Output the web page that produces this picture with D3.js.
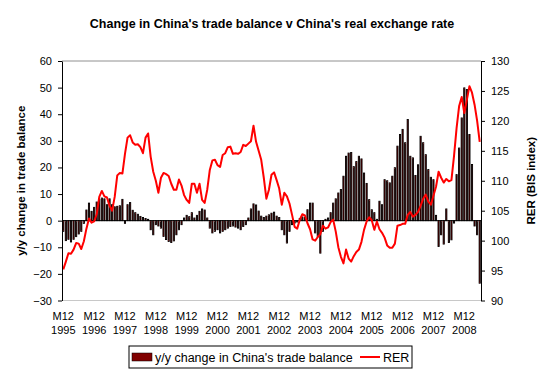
<!DOCTYPE html>
<html>
<head>
<meta charset="utf-8">
<script src="https://cdn.jsdelivr.net/npm/d3@7"></script>
<style>
  body { margin: 0; background: #fff; }
  svg { display: block; font-family: Arial, "Liberation Sans", sans-serif; }
  .axis text { font-size: 11px; fill: #000; }
  .axis path, .axis line { stroke: #000; }
</style>
</head>
<body>
<svg width="547" height="374"></svg>
<script>
// monthly, M12 1995 .. M6 2009
const yearLabels = ["1995","1996","1997","1998","1999","2000","2001","2002","2003","2004","2005","2006","2007","2008"];

// y/y change in China's trade balance (left axis)
const tradeChange = [
  -4, -7.5, -7, -8, -7, -6, -5, -4, -1, 4,
  6.6, 3.5, 5, 7, 8, 8.5, 8.2, 6, 8.2, 6,
  5.2, 5.4, 5.6, 8, -1, 6, 6.8, 3.9, 3, 2.4,
  1.6, 1.2, 0.8, 0.5, -3.4, -5.3, -1.5, -2, -2.8, -5.9,
  -7.1, -7.8, -8.2, -7.6, -5.3, -3.4, -1.5, 1, 2, 1.5,
  3, 1, 2, 3.5, 4.4, 4, 1, -2.8, -4.6, -4,
  -3.4, -4.6, -4, -3.4, -2.8, -2.2, -2, -2.4, -2.8, -3.4,
  -2.2, -1.5, 1, 4.4, 6.3, 5.9, 3.6, 1.7, 1.2, 1.7,
  2.2, 2.8, 3.2, 1.7, 1.2, -3.4, -5.3, -8.4, -4, -1.5,
  -0.9, -0.5, 0.8, 1.4, 1.2, 4.1, 6.6, 6.6, -4.6, -5.9,
  -12.2, -4, 0.5, 1, 3, 6.6, 8.2, 10.4, 11.7, 16.7,
  24.2, 25.4, 25.6, 20.3, 22.2, 24.2, 23.2, 17.9, 14, 7.9,
  4.1, 3, 0.5, 7.3, 6, 15.4, 15, 14.2, 16.7, 19.9,
  28, 32.4, 34.3, 29.3, 38, 24.2, 23.6, 17, 21, 31.7,
  29.3, 24.8, 19.2, 16.3, 15.4, 2, -9.7, -5.3, -8.8, 4.4,
  -8.2, -7.2, -0.9, 17.3, 27.3, 38.6, 49.9, 49.3, 32.4, 21.1,
  -2, -5.3, -23.5
];

// RER, BIS index (right axis)
const rer = [
  95.2, 96.5, 97.9, 97.8, 98.5, 99.6, 99.5, 98.6, 99.9, 102,
  103.7, 103, 103.2, 104.4, 107.3, 108.3, 107.4, 107.2, 105.8, 105,
  107.3, 110.9, 111.3, 111.2, 114.5, 117.2, 117.6, 116.4, 116, 116.1,
  115.6, 114.6, 117.2, 117.9, 114, 111.5, 110, 108, 110.5, 111.3,
  111.1, 110.8, 109.5, 108.5, 108.5, 110.2, 109.2, 107.6, 106.8, 106.3,
  109.5, 109.5, 108, 109.5, 106.8, 106.3, 108.5, 111.8, 113.4, 113.5,
  112.6, 112.3, 114.3, 114.6, 115.6, 115.7, 114.5, 114.6, 114.5, 114.8,
  116, 115.8, 116.2, 116.6, 119.2, 116.5, 115, 113.5, 110.5, 107,
  108.5, 111, 111.4, 110.1, 108.7, 106, 108, 107.4, 106.2, 104.3,
  102.3, 102, 103.5, 104.4, 104.2, 102.9, 101.9, 100.2, 100, 100.6,
  101.1, 102.5, 102, 102.2, 103.1, 103.5, 101.5, 98.9, 97.3, 96.2,
  98.5, 97, 96.5, 97.4, 98.1, 98.5, 99.8, 101.8, 103.2, 103.9,
  103.4, 101.8, 103.2, 101.9, 101.3, 100.5, 99.2, 98.8, 98.8, 99.5,
  102.5, 102.6, 102.8, 102.8, 104.3, 104.8, 104, 104.3, 104.8, 105.8,
  107, 107.7, 106.5, 106, 107.5, 109, 111.5, 110.5, 109.7, 110.3,
  109.9, 110.1, 114.1, 118.8, 122.5, 124, 121.3, 123.5, 125.8, 124.7,
  122.7, 120, 116.5
];

const leftTicks = [-30, -20, -10, 0, 10, 20, 30, 40, 50, 60];
const rightTicks = [90, 95, 100, 105, 110, 115, 120, 125, 130];

const svg = d3.select("svg");
const plot = { left: 62, right: 481, top: 61, bottom: 300.5 };

const x = d3.scaleBand()
  .domain(d3.range(tradeChange.length))
  .range([plot.left, plot.right])
  .paddingInner(0.55)
  .paddingOuter(0.275);

const yL = d3.scaleLinear().domain([-30, 60]).range([plot.bottom, plot.top]);
const yR = d3.scaleLinear().domain([90, 130]).range([plot.bottom, plot.top]);

// title
svg.append("text")
  .attr("x", 272)
  .attr("y", 28)
  .attr("text-anchor", "middle")
  .style("font-size", "12.5px")
  .style("font-weight", "bold")
  .text("Change in China's trade balance v China's real exchange rate");

// frame
svg.append("line")
  .attr("x1", plot.left).attr("x2", plot.right)
  .attr("y1", plot.top).attr("y2", plot.top)
  .attr("stroke", "#909090");
svg.append("line")
  .attr("x1", plot.left).attr("x2", plot.right)
  .attr("y1", plot.bottom).attr("y2", plot.bottom)
  .attr("stroke", "#c8c8c8");

// bars
svg.append("g")
  .selectAll("rect")
  .data(tradeChange)
  .enter().append("rect")
  .attr("x", (d, i) => x(i))
  .attr("width", x.bandwidth())
  .attr("y", d => yL(Math.max(0, d)))
  .attr("height", d => Math.abs(yL(d) - yL(0)))
  .attr("fill", "#800000")
  .attr("stroke", "#000")
  .attr("stroke-width", 0.9);

// zero line
svg.append("line")
  .attr("x1", plot.left).attr("x2", plot.right)
  .attr("y1", yL(0)).attr("y2", yL(0))
  .attr("stroke", "#000");

// RER line
const line = d3.line()
  .x((d, i) => x(i) + x.bandwidth() / 2)
  .y(d => yR(d));

svg.append("path")
  .datum(rer)
  .attr("fill", "none")
  .attr("stroke", "#ff0000")
  .attr("stroke-width", 2)
  .attr("stroke-linejoin", "round")
  .attr("d", line);

// left axis
const axL = svg.append("g")
  .attr("class", "axis")
  .attr("transform", "translate(" + plot.left + ",0)")
  .call(d3.axisLeft(yL).tickValues(leftTicks).tickSize(4).tickSizeOuter(0).tickPadding(6));
axL.select(".domain").attr("stroke", "#000");

// right axis
const axR = svg.append("g")
  .attr("class", "axis")
  .attr("transform", "translate(" + plot.right + ",0)")
  .call(d3.axisRight(yR).tickValues(rightTicks).tickSize(4).tickSizeOuter(0).tickPadding(6));
axR.select(".domain").attr("stroke", "#555");
axR.selectAll(".tick line").attr("stroke", "#555");

// x labels: every 12th month (M12 of each year)
const xTickIdx = yearLabels.map((y, k) => k * 12);
const axX = svg.append("g")
  .attr("class", "axis")
  .attr("transform", "translate(0," + plot.bottom + ")")
  .call(d3.axisBottom(x).tickValues(xTickIdx).tickSize(0).tickFormat(""));
axX.select(".domain").remove();
axX.selectAll(".tick").each(function(d, k) {
  const t = d3.select(this).append("text")
    .attr("text-anchor", "middle")
    .attr("fill", "#000");
  t.append("tspan").attr("x", 0).attr("y", 19).text("M12");
  t.append("tspan").attr("x", 0).attr("y", 33).text(yearLabels[k]);
});

// axis titles
svg.append("text")
  .attr("transform", "translate(25," + (plot.top + plot.bottom) / 2 + ") rotate(-90)")
  .attr("text-anchor", "middle")
  .style("font-size", "11.5px")
  .style("font-weight", "bold")
  .text("y/y change in trade balance");

svg.append("text")
  .attr("transform", "translate(535," + (plot.top + plot.bottom) / 2 + ") rotate(-90)")
  .attr("text-anchor", "middle")
  .style("font-size", "11.5px")
  .style("font-weight", "bold")
  .text("RER (BIS index)");

// legend
const legend = svg.append("g").attr("transform", "translate(129,346)");
legend.append("rect")
  .attr("width", 283).attr("height", 22)
  .attr("fill", "#fff").attr("stroke", "#000");
legend.append("rect")
  .attr("x", 3).attr("y", 7).attr("width", 20).attr("height", 8)
  .attr("fill", "#800000").attr("stroke", "#000").attr("stroke-width", 0.5);
legend.append("text")
  .attr("x", 26).attr("y", 15.5)
  .style("font-size", "12.5px")
  .text("y/y change in China's trade balance");
legend.append("line")
  .attr("x1", 231).attr("x2", 251).attr("y1", 11).attr("y2", 11)
  .attr("stroke", "#ff0000").attr("stroke-width", 2);
legend.append("text")
  .attr("x", 254).attr("y", 15.5)
  .style("font-size", "12.5px")
  .text("RER");
</script>
</body>
</html>
